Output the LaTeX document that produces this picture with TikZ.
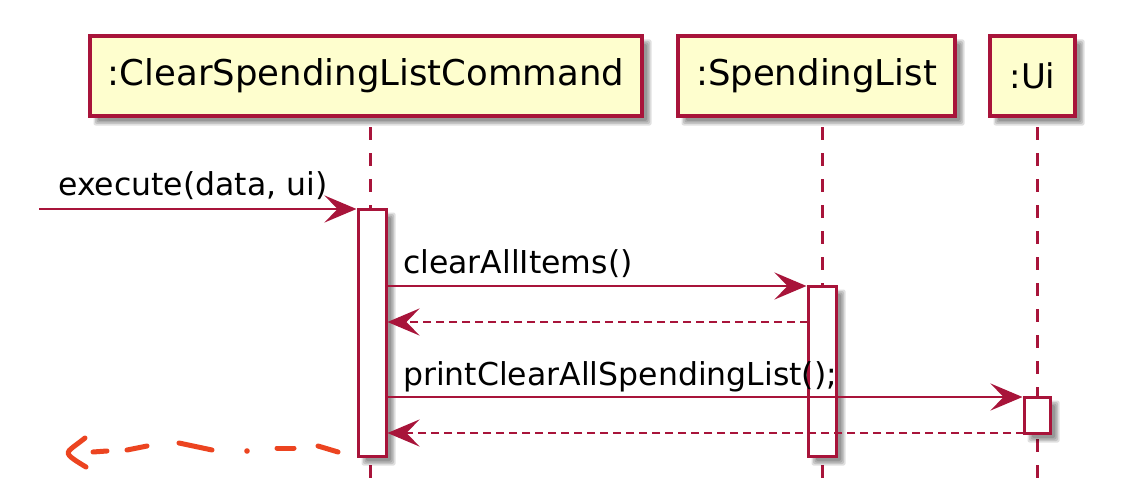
\documentclass[tikz,border=0pt]{standalone}
\usepackage{fontspec}
\setmainfont{DejaVu Sans}
\usetikzlibrary{arrows.meta}
\definecolor{puml}{RGB}{168,20,58}
\definecolor{pfill}{RGB}{254,254,206}
\definecolor{hand}{RGB}{236,68,32}
\newcommand\myshadow[4]{%
  \foreach \k in {0,1.5,3,4.5}{%
    \fill[black,opacity=0.12,rounded corners=2pt] (#1+8-\k,#2+8-\k) rectangle (#3+8+\k-3,#4+8+\k-3);}}
\tikzset{
  hdr/.style={draw=puml,fill=pfill,line width=3.5pt,inner sep=0pt,font=\fontsize{35.5}{40}\selectfont},
  act/.style={draw=puml,fill=white,line width=3pt,inner sep=0pt},
  life/.style={draw=puml,line width=3pt,dash pattern=on 13pt off 13pt},
  msg/.style={draw=puml,line width=2.6pt,-{Stealth[length=32pt,width=27pt,inset=13pt]}},
  ret/.style={msg,dash pattern=on 8pt off 5pt},
  lbl/.style={anchor=base west,inner sep=0pt,font=\fontsize{31.5}{36}\selectfont},
  handline/.style={draw=hand,line width=5pt,line cap=round,line join=round}
}
\begin{document}
\begin{tikzpicture}[x=1pt,y=-1pt]
\useasboundingbox (0,0) rectangle (1142,492);
\fill[white] (0,0) rectangle (1142,492);
% shadows of headers
\myshadow{90}{36}{642}{116}
\myshadow{678}{36}{955}{116}
\myshadow{990}{36}{1075}{116}
% headers
\node[hdr,minimum width=552pt,minimum height=80pt] (h1) at (366,76) {:ClearSpendingListCommand};
\node[hdr,minimum width=277pt,minimum height=80pt] (h2) at (816.5,76) {:SpendingList};
\node[hdr,minimum width=85pt,minimum height=80pt,font=\fontsize{34}{40}\selectfont] (h3) at (1032.5,76) {:Ui};
% lifelines
\coordinate (l1t) at (370,127); \coordinate (l1b) at (370,478);
\coordinate (l2t) at (822,127); \coordinate (l2b) at (822,478);
\coordinate (l3t) at (1037,127); \coordinate (l3b) at (1037,478);
\draw[life] (l1t) -- (l1b);
\draw[life] (l2t) -- (l2b);
\draw[life] (l3t) -- (l3b);
% activation shadows
\myshadow{358}{209}{386}{456}
\myshadow{808}{286}{836}{456}
\myshadow{1024}{397}{1050}{433}
% activations
\node[act,minimum width=28pt,minimum height=247pt] (a1) at (372,332.5) {};
\node[act,minimum width=28pt,minimum height=170pt] (a2) at (822,371) {};
\node[act,minimum width=26pt,minimum height=36pt] (a3) at (1037,415) {};
% messages
\coordinate (ex) at (39,209);
\draw[msg] (ex) -- (ex -| a1.west);
\node[lbl] (t1) at (58,195) {execute(data, ui)};
\coordinate (m1) at (386,286);
\draw[msg] (m1) -- (m1 -| a2.west);
\node[lbl] (t2) at (403,273) {clearAllItems()};
\coordinate (r1) at (808,322);
\draw[ret] (r1) -- (r1 -| a1.east);
\coordinate (m2) at (386,397);
\draw[msg] (m2) -- (m2 -| a3.west);
\node[lbl] (t3) at (403,385) {printClearAllSpendingList();};
\coordinate (r2) at (1024,433);
\draw[ret] (r2) -- (r2 -| a1.east);
% hand drawn return arrow
\draw[handline] (85,438) .. controls (75,446) and (68,450) .. (68,453) .. controls (68,456) and (76,461) .. (86,467);
\draw[handline] (93,452) -- (107,451);
\draw[handline] (127,450) -- (147,446);
\draw[handline] (179,443) -- (212,450);
\fill[hand] (247,451) circle (2.8pt);
\draw[handline] (277,448) -- (294,448);
\draw[handline] (318,446) -- (338,452);
\end{tikzpicture}
\end{document}
